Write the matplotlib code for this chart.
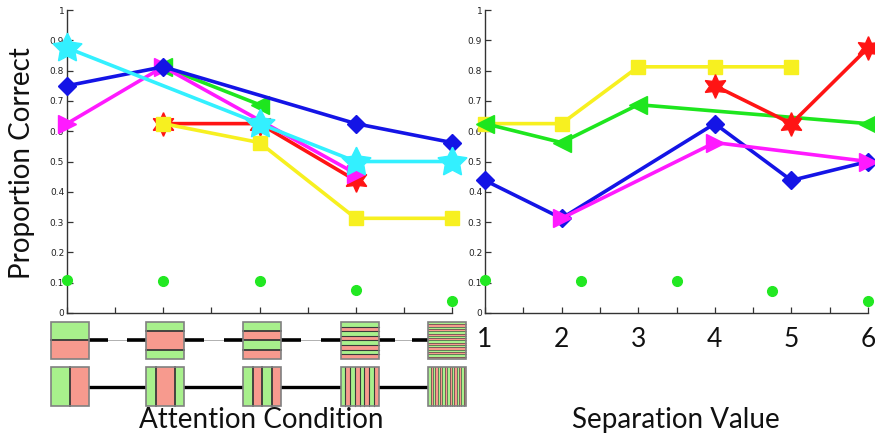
import matplotlib
matplotlib.use("Agg")
import matplotlib.pyplot as plt
from matplotlib.patches import Rectangle
import numpy as np

# ---------------- data ----------------
# Left panel: attention condition (1..5)
att_blue_x = [1, 2, 4, 5]
att_blue_y = [0.75, 0.8125, 0.625, 0.5625]
att_cyan_x = [1, 3, 4, 5]
att_cyan_y = [0.875, 0.625, 0.5, 0.5]
att_magenta_x = [1, 2, 4]
att_magenta_y = [0.625, 0.8125, 0.46]
att_green_x = [2, 3]
att_green_y = [0.8125, 0.6875]
att_red_x = [2, 3, 4]
att_red_y = [0.625, 0.625, 0.4375]
att_yellow_x = [2, 3, 4, 5]
att_yellow_y = [0.625, 0.5625, 0.3125, 0.3125]
att_chance_x = [1, 2, 3, 4, 5]
att_chance_y = [0.11, 0.105, 0.105, 0.075, 0.04]

# Right panel: separation value (1..6)
sep_yellow_x = [1, 2, 3, 4, 5]
sep_yellow_y = [0.625, 0.625, 0.8125, 0.8125, 0.8125]
sep_green_x = [1, 2, 3, 6]
sep_green_y = [0.625, 0.5625, 0.6875, 0.625]
sep_red_x = [4, 5, 6]
sep_red_y = [0.75, 0.625, 0.875]
sep_blue_x = [1, 2, 4, 5, 6]
sep_blue_y = [0.4375, 0.3125, 0.625, 0.4375, 0.5]
sep_magenta_x = [2, 4, 6]
sep_magenta_y = [0.3125, 0.5625, 0.5]
sep_chance_x = [1, 2.25, 3.5, 4.75, 6]
sep_chance_y = [0.11, 0.105, 0.105, 0.072, 0.04]

sep_ticklabels = ["1", "2", "3", "4", "5", "6"]
y_ticklabels = ["0", "0.1", "0.2", "0.3", "0.4", "0.5", "0.6", "0.7", "0.8", "0.9", "1"]

# stimulus patterns (sequence of bands, G=green, R=red)
pattern_centers = [1.03, 2.02, 3.03, 4.04, 4.95]
pattern_bands = [
    ["G", "R"],
    ["G", "R", "R", "G"],
    ["G", "R", "G", "R"],
    ["G", "R"] * 4,
    ["G", "R"] * 8,
]

# ---------------- style ----------------
C_BLUE = "#1414e6"
C_CYAN = "#33f0ff"
C_MAG = "#ff1aff"
C_GREEN = "#1ee61e"
C_RED = "#ff1414"
C_YEL = "#f7f020"
C_DOT = "#22e822"
FILL = {"G": "#a8f08c", "R": "#f79a8e"}

LW = 2.6
W, H = 875, 441
fig = plt.figure(figsize=(W / 100, H / 100), dpi=100)

def fx(px):
    return px / W

def fy(py):
    return 1 - py / H

ax1 = fig.add_axes([fx(67), fy(313), fx(452) - fx(67), fy(10) - fy(313)])
ax2 = fig.add_axes([fx(485), fy(313), fx(868) - fx(485), fy(10) - fy(313)])

def series(ax, x, y, color, marker, ms, z):
    ax.plot(x, y, color=color, lw=LW, marker=marker, ms=ms, mec=color,
            mfc=color, clip_on=False, zorder=z)

star5 = (5, 1, 0)
star6 = (6, 1, 0)

series(ax1, att_red_x, att_red_y, C_RED, star6, 17, 3)
series(ax1, att_yellow_x, att_yellow_y, C_YEL, "s", 10, 4)
series(ax1, att_green_x, att_green_y, C_GREEN, "<", 13, 5)
series(ax1, att_magenta_x, att_magenta_y, C_MAG, ">", 13, 6)
series(ax1, att_blue_x, att_blue_y, C_BLUE, "D", 9.5, 7)
series(ax1, att_cyan_x, att_cyan_y, C_CYAN, star5, 22, 8)
ax1.plot(att_chance_x, att_chance_y, "o", color=C_DOT, ms=7, ls="none",
         clip_on=False, zorder=9)

series(ax2, sep_yellow_x, sep_yellow_y, C_YEL, "s", 10, 3)
series(ax2, sep_green_x, sep_green_y, C_GREEN, "<", 13, 4)
series(ax2, sep_red_x, sep_red_y, C_RED, star6, 17, 5)
series(ax2, sep_blue_x, sep_blue_y, C_BLUE, "D", 9.5, 6)
series(ax2, sep_magenta_x, sep_magenta_y, C_MAG, ">", 13, 7)
ax2.plot(sep_chance_x, sep_chance_y, "o", color=C_DOT, ms=7, ls="none",
         clip_on=False, zorder=9)

small_font = dict(family="DejaVu Sans", size=6.5)
for ax, xmax in ((ax1, 5), (ax2, 6)):
    ax.set_xlim(1, xmax)
    ax.set_ylim(0, 1)
    for s in ("top", "right"):
        ax.spines[s].set_visible(False)
    for s in ("left", "bottom"):
        ax.spines[s].set_color("#333333")
        ax.spines[s].set_linewidth(1.0)
    ax.set_yticks(np.arange(0, 1.01, 0.1))
    ax.set_yticklabels(y_ticklabels, fontdict=small_font, color="#222222")
    ax.set_xticks(np.arange(1, xmax + 0.01, 0.5))
    ax.tick_params(direction="in", length=4, width=0.9, color="#333333", pad=2)
    ax.set_facecolor("none")

ax1.set_xticklabels([])
ax2.set_xticks(np.arange(1, 6.01, 0.5))
lbls = []
for v in np.arange(1, 6.01, 0.5):
    lbls.append(sep_ticklabels[int(v) - 1] if float(v).is_integer() else "")
ax2.set_xticklabels(lbls, family="Lato", fontsize=19, color="#111111")
ax2.tick_params(axis="x", pad=10)

# ---------------- stimulus pattern strip ----------------
pax = fig.add_axes([fx(67), fy(410), fx(452) - fx(67), fy(318) - fy(410)])
pax.set_xlim(1, 5)
pax.set_ylim(0, 1)
pax.axis("off")

sq_w = 0.395
top_lo, top_hi = 0.554, 0.957
bot_lo, bot_hi = 0.043, 0.467

def draw_square(cx, lo, hi, bands, horizontal):
    x0 = cx - sq_w / 2
    n = len(bands)
    lw = 1.3 if n <= 4 else (0.8 if n <= 8 else 0.45)
    for i, b in enumerate(bands):
        if horizontal:
            y1 = hi - (i + 1) * (hi - lo) / n
            r = Rectangle((x0, y1), sq_w, (hi - lo) / n, fc=FILL[b], ec="none",
                          clip_on=False, zorder=2)
        else:
            xa = x0 + i * sq_w / n
            r = Rectangle((xa, lo), sq_w / n, hi - lo, fc=FILL[b], ec="none",
                          clip_on=False, zorder=2)
        pax.add_patch(r)
    for i in range(1, n):
        if bands[i] != bands[i - 1]:
            if horizontal:
                yy = hi - i * (hi - lo) / n
                pax.plot([x0, x0 + sq_w], [yy, yy], color="#3a3a3a", lw=lw,
                         clip_on=False, zorder=3)
            else:
                xx = x0 + i * sq_w / n
                pax.plot([xx, xx], [lo, hi], color="#3a3a3a", lw=lw,
                         clip_on=False, zorder=3)
    pax.add_patch(Rectangle((x0, lo), sq_w, hi - lo, fc="none", ec="#808080",
                            lw=1.2, clip_on=False, zorder=4))

for cx, bands in zip(pattern_centers, pattern_bands):
    draw_square(cx, top_lo, top_hi, bands, True)
    draw_square(cx, bot_lo, bot_hi, bands, False)

ym_top = (top_lo + top_hi) / 2
ym_bot = (bot_lo + bot_hi) / 2
for a, b in zip(pattern_centers[:-1], pattern_centers[1:]):
    xa = a + sq_w / 2
    xb = b - sq_w / 2
    g = (xb - xa) / 3
    pax.plot([xa, xa + g], [ym_top] * 2, color="black", lw=2.6, clip_on=False, zorder=1,
             solid_capstyle="butt")
    pax.plot([xa + g, xb - g], [ym_top] * 2, color="#b0b0b0", lw=0.7, clip_on=False, zorder=1)
    pax.plot([xb - g, xb], [ym_top] * 2, color="black", lw=2.6, clip_on=False, zorder=1,
             solid_capstyle="butt")
    pax.plot([xa, xb], [ym_bot] * 2, color="black", lw=2.4, clip_on=False, zorder=1)

# ---------------- labels ----------------
big = dict(family="Lato", fontsize=20, color="#111111")
fig.text(fx(22), fy(163), "Proportion Correct", rotation=90, ha="center", va="center", **big)
fig.text(fx(261), fy(420), "Attention Condition", ha="center", va="center", **big)
fig.text(fx(676), fy(420), "Separation Value", ha="center", va="center", **big)

fig.savefig("out.png", dpi=100)
